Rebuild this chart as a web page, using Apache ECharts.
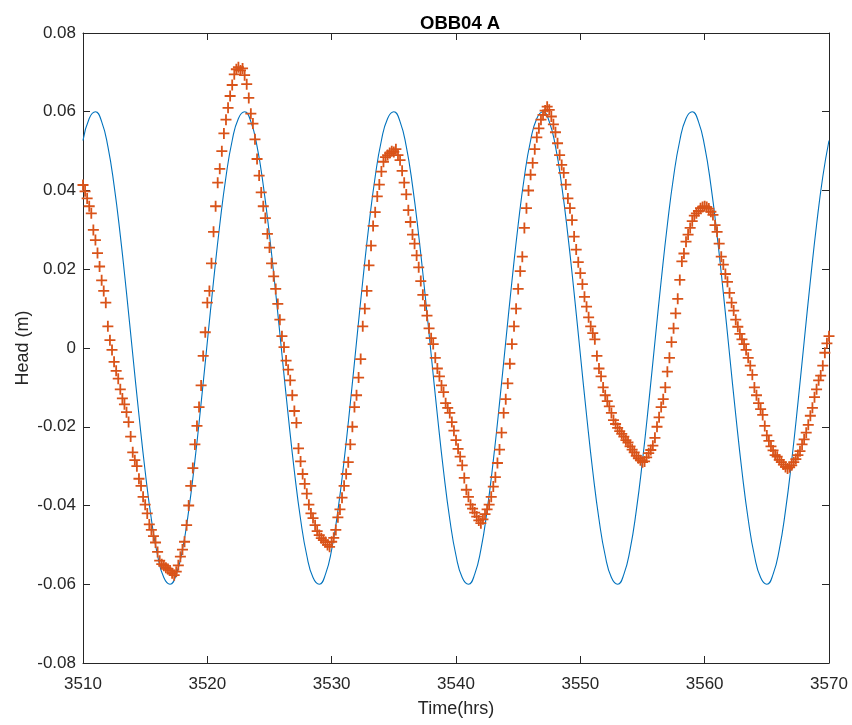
<!DOCTYPE html>
<html>
<head>
<meta charset="utf-8">
<script src="https://cdn.jsdelivr.net/npm/echarts@6/dist/echarts.min.js"></script>
<style>
html,body{margin:0;padding:0;background:#fff;}
#chart{width:852px;height:725px;}
</style>
</head>
<body>
<div id="chart"></div>
<script>
// ---- Data ----
const titleText = 'OBB04 A';
const xName = 'Time(hrs)';
const yName = 'Head (m)';
const xMin = 3510, xMax = 3570, xStep = 10;
const yMin = -0.08, yMax = 0.08, yStep = 0.02;

// Model (blue line): sampled every 0.5 h starting at 3510
const modelStart = 3510;
const modelDt = 0.5;
const modelHead = [
  0.0527,0.0583,0.0600,0.0575,0.0512,0.0413,0.0286,0.0140,-0.0016,-0.0170,-0.0313,-0.0435,
  -0.0527,-0.0583,-0.0600,-0.0575,-0.0512,-0.0413,-0.0286,-0.0140,0.0016,0.0170,0.0313,0.0435,
  0.0527,0.0583,0.0600,0.0575,0.0512,0.0413,0.0286,0.0140,-0.0016,-0.0170,-0.0313,-0.0435,
  -0.0527,-0.0583,-0.0600,-0.0575,-0.0512,-0.0413,-0.0286,-0.0140,0.0016,0.0170,0.0313,0.0435,
  0.0527,0.0583,0.0600,0.0575,0.0512,0.0413,0.0286,0.0140,-0.0016,-0.0170,-0.0313,-0.0435,
  -0.0527,-0.0583,-0.0600,-0.0575,-0.0512,-0.0413,-0.0286,-0.0140,0.0016,0.0170,0.0313,0.0435,
  0.0527,0.0583,0.0600,0.0575,0.0512,0.0413,0.0286,0.0140,-0.0016,-0.0170,-0.0313,-0.0435,
  -0.0527,-0.0583,-0.0600,-0.0575,-0.0512,-0.0413,-0.0286,-0.0140,0.0016,0.0170,0.0313,0.0435,
  0.0527,0.0583,0.0600,0.0575,0.0512,0.0413,0.0286,0.0140,-0.0016,-0.0170,-0.0313,-0.0435,
  -0.0527,-0.0583,-0.0600,-0.0575,-0.0512,-0.0413,-0.0286,-0.0140,0.0016,0.0170,0.0313,0.0435,
  0.0527
];

// Observed (orange crosses): sampled every 10 min starting at 3510
const obsStart = 3510;
const obsDt = 1 / 6;
const obsHead = [
  0.0414,0.0398,0.0380,0.0360,0.0342,0.0300,
  0.0274,0.0241,0.0207,0.0172,0.0145,0.0115,
  0.0055,0.0020,-0.0005,-0.0035,-0.0058,-0.0078,
  -0.0105,-0.0128,-0.0143,-0.0163,-0.0188,-0.0225,
  -0.0265,-0.0285,-0.0300,-0.0332,-0.0350,-0.0378,
  -0.0398,-0.0420,-0.0448,-0.0462,-0.0478,-0.0494,
  -0.0518,-0.0540,-0.0549,-0.0553,-0.0558,-0.0561,
  -0.0565,-0.0572,-0.0577,-0.0568,-0.0552,-0.0530,
  -0.0512,-0.0492,-0.0450,-0.0400,-0.0350,-0.0305,
  -0.0245,-0.0198,-0.0150,-0.0095,-0.0020,0.0040,
  0.0115,0.0145,0.0215,0.0295,0.0360,0.0420,
  0.0455,0.0500,0.0545,0.0580,0.0610,0.0640,
  0.0668,0.0695,0.0708,0.0713,0.0705,0.0710,
  0.0693,0.0670,0.0635,0.0595,0.0570,0.0530,
  0.0480,0.0438,0.0395,0.0360,0.0330,0.0290,
  0.0255,0.0215,0.0182,0.0150,0.0112,0.0072,
  0.0030,0.0002,-0.0032,-0.0055,-0.0082,-0.0120,
  -0.0160,-0.0190,-0.0255,-0.0288,-0.0320,-0.0345,
  -0.0370,-0.0398,-0.0420,-0.0432,-0.0450,-0.0465,
  -0.0475,-0.0483,-0.0488,-0.0493,-0.0500,-0.0505,
  -0.0492,-0.0482,-0.0462,-0.0430,-0.0410,-0.0380,
  -0.0350,-0.0320,-0.0290,-0.0245,-0.0200,-0.0150,
  -0.0120,-0.0075,-0.0028,0.0055,0.0100,0.0145,
  0.0210,0.0260,0.0310,0.0345,0.0385,0.0415,
  0.0448,0.0473,0.0485,0.0490,0.0495,0.0500,
  0.0498,0.0505,0.0490,0.0477,0.0450,0.0420,
  0.0390,0.0350,0.0320,0.0288,0.0265,0.0235,
  0.0205,0.0170,0.0135,0.0108,0.0082,0.0050,
  0.0025,0.0010,-0.0025,-0.0052,-0.0072,-0.0095,
  -0.0112,-0.0140,-0.0152,-0.0165,-0.0188,-0.0210,
  -0.0234,-0.0256,-0.0276,-0.0298,-0.0330,-0.0360,
  -0.0378,-0.0398,-0.0408,-0.0418,-0.0428,-0.0438,
  -0.0445,-0.0435,-0.0422,-0.0410,-0.0398,-0.0378,
  -0.0352,-0.0328,-0.0292,-0.0258,-0.0215,-0.0165,
  -0.0130,-0.0090,-0.0040,0.0010,0.0055,0.0100,
  0.0150,0.0195,0.0232,0.0305,0.0355,0.0400,
  0.0440,0.0470,0.0505,0.0535,0.0558,0.0580,
  0.0592,0.0603,0.0613,0.0605,0.0588,0.0568,
  0.0548,0.0520,0.0490,0.0465,0.0445,0.0415,
  0.0380,0.0355,0.0325,0.0283,0.0250,0.0218,
  0.0190,0.0162,0.0130,0.0105,0.0078,0.0055,
  0.0038,0.0022,-0.0020,-0.0052,-0.0072,-0.0100,
  -0.0120,-0.0135,-0.0148,-0.0165,-0.0183,-0.0193,
  -0.0203,-0.0211,-0.0218,-0.0225,-0.0234,-0.0240,
  -0.0250,-0.0258,-0.0265,-0.0274,-0.0280,-0.0285,
  -0.0290,-0.0288,-0.0278,-0.0267,-0.0259,-0.0248,
  -0.0228,-0.0200,-0.0176,-0.0150,-0.0130,-0.0100,
  -0.0060,-0.0025,0.0015,0.0050,0.0088,0.0125,
  0.0173,0.0220,0.0240,0.0270,0.0288,0.0305,
  0.0322,0.0336,0.0342,0.0348,0.0355,0.0358,
  0.0360,0.0358,0.0354,0.0346,0.0338,0.0312,
  0.0295,0.0265,0.0232,0.0212,0.0188,0.0168,
  0.0140,0.0115,0.0095,0.0072,0.0054,0.0036,
  0.0022,0.0010,-0.0005,-0.0025,-0.0045,-0.0068,
  -0.0100,-0.0120,-0.0140,-0.0155,-0.0170,-0.0198,
  -0.0222,-0.0236,-0.0250,-0.0260,-0.0272,-0.0276,
  -0.0284,-0.0290,-0.0296,-0.0302,-0.0306,-0.0303,
  -0.0298,-0.0290,-0.0282,-0.0272,-0.0262,-0.0245,
  -0.0232,-0.0215,-0.0195,-0.0172,-0.0152,-0.0125,
  -0.0105,-0.0082,-0.0070,-0.0045,-0.0012,0.0012,
  0.0030
];

// ---- Build series data ----
const modelData = modelHead.map((v, i) => [modelStart + i * modelDt, v]);
const obsData = obsHead.map((v, i) => [obsStart + i * obsDt, v]);

const axisColor = '#262626';
const fontFamily = '"Liberation Sans", Arial, Helvetica, sans-serif';
const plusPath = 'path://M4.6,0h1.8v4.6h4.6v1.8h-4.6v4.6h-1.8v-4.6h-4.6v-1.8h4.6z';

function axisCommon(extra) {
  return Object.assign({
    type: 'value',
    axisLine: { show: true, onZero: false, lineStyle: { color: axisColor, width: 1 } },
    axisTick: { show: true, inside: true, length: 7, lineStyle: { color: axisColor, width: 1 } },
    splitLine: { show: false },
    axisLabel: { show: false }
  }, extra);
}

const chart = echarts.init(document.getElementById('chart'), null, { renderer: 'canvas' });
chart.setOption({
  backgroundColor: '#ffffff',
  animation: false,
  textStyle: { fontFamily: fontFamily },
  title: {
    text: titleText,
    left: 415,
    top: 9,
    textStyle: { fontFamily: fontFamily, fontWeight: 'bold', fontSize: 18.5, color: '#000' }
  },
  grid: { left: 83, right: 23, top: 33, bottom: 62, containLabel: false },
  xAxis: [
    axisCommon({
      min: xMin, max: xMax, interval: xStep, position: 'bottom',
      axisLabel: { show: true, fontSize: 17, color: axisColor, margin: 13, fontFamily: fontFamily,
        formatter: v => String(Math.round(v)) },
      name: xName, nameLocation: 'middle', nameGap: 37, nameMoveOverlap: false,
      nameTextStyle: { fontSize: 18, color: axisColor, fontFamily: fontFamily }
    }),
    axisCommon({ min: xMin, max: xMax, interval: xStep, position: 'top' })
  ],
  yAxis: [
    axisCommon({
      min: yMin, max: yMax, interval: yStep, position: 'left',
      axisLabel: { show: true, fontSize: 17, color: axisColor, margin: 7, fontFamily: fontFamily,
        formatter: v => { const r = Math.round(v * 100) / 100; return r === 0 ? '0' : String(r); } },
      name: yName, nameLocation: 'middle', nameGap: 51, nameMoveOverlap: false,
      nameTextStyle: { fontSize: 18, color: axisColor, fontFamily: fontFamily }
    }),
    axisCommon({ min: yMin, max: yMax, interval: yStep, position: 'right' })
  ],
  series: [
    {
      name: 'model',
      type: 'line',
      data: modelData,
      smooth: true,
      showSymbol: false,
      lineStyle: { color: '#0072BD', width: 1.1 },
      z: 2
    },
    {
      name: 'observed',
      type: 'scatter',
      data: obsData,
      symbol: plusPath,
      symbolSize: 11,
      itemStyle: { color: '#D95319', opacity: 1 },
      z: 3
    }
  ]
});
</script>
</body>
</html>
